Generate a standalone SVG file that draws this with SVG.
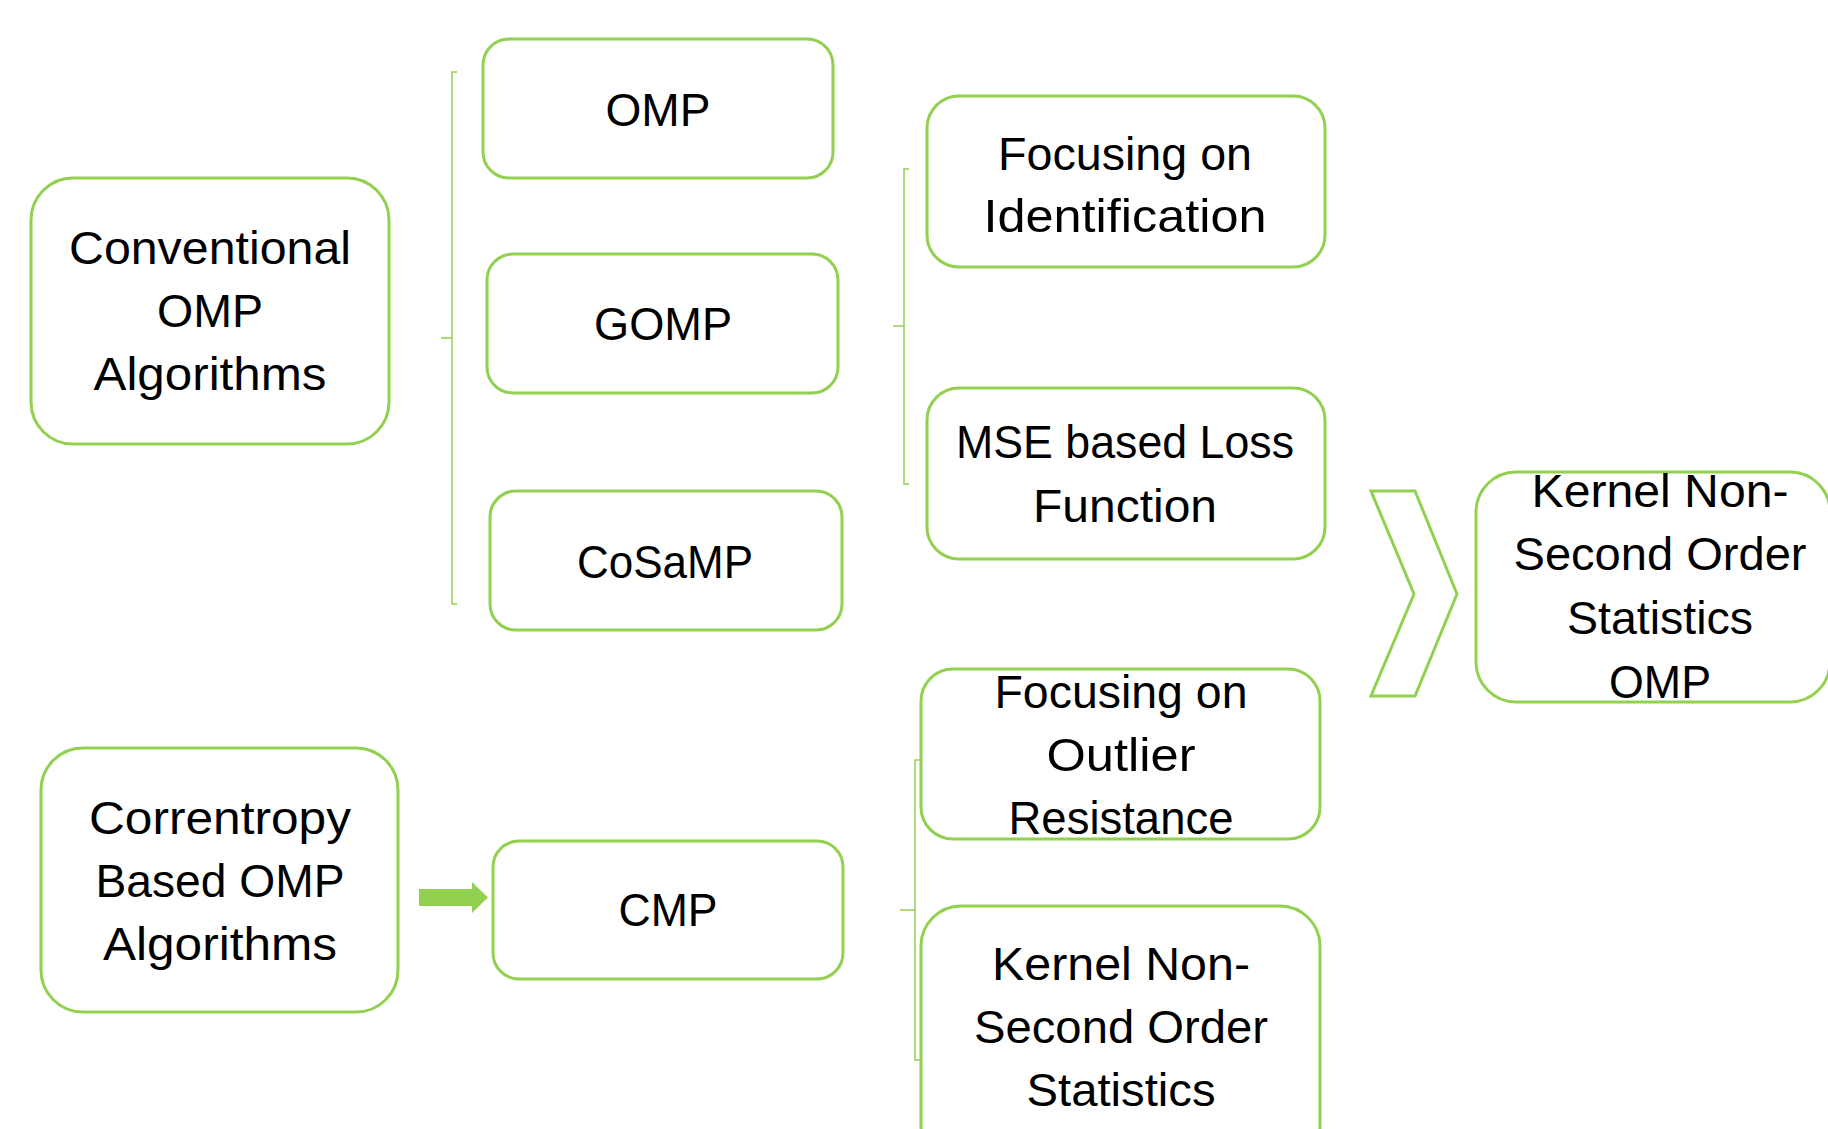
<svg xmlns="http://www.w3.org/2000/svg" width="1828" height="1129" viewBox="0 0 1828 1129">
<style>
.box{fill:#fff;stroke:#92D050;stroke-width:3}
.br{fill:none;stroke:#92D050;stroke-width:1.5}
text{font-family:"Liberation Sans",Arial,sans-serif;font-size:46px;fill:#000;text-anchor:middle}
</style>
<rect width="1828" height="1129" fill="#fff"/>
<g id="connectors">
<path class="br" d="M457,72 H452 V604 H457 M452,338 H441"/>
<path class="br" d="M909,169 H904 V484 H909 M904,326 H893"/>
<path class="br" d="M921,760 H915 V1060 H921 M915,910 H900"/>
<polygon points="419,889 472,889 472,882 488,897.5 472,913 472,906 419,906" fill="#92D050"/>
<polygon class="box" points="1371,491 1415,491 1457,594 1415,696 1371,696 1414,594"/>
</g>
<g id="conventional">
<rect class="box" x="31" y="178" width="358" height="266" rx="42"/>
<text x="210" y="264" textLength="282" lengthAdjust="spacingAndGlyphs">Conventional</text>
<text x="210" y="327" textLength="106" lengthAdjust="spacingAndGlyphs">OMP</text>
<text x="210" y="390" textLength="233" lengthAdjust="spacingAndGlyphs">Algorithms</text>
</g>
<g id="omp">
<rect class="box" x="483" y="39" width="350" height="139" rx="26"/>
<text x="658" y="126" textLength="105" lengthAdjust="spacingAndGlyphs">OMP</text>
</g>
<g id="gomp">
<rect class="box" x="487" y="254" width="351" height="139" rx="26"/>
<text x="663" y="340" textLength="138" lengthAdjust="spacingAndGlyphs">GOMP</text>
</g>
<g id="cosamp">
<rect class="box" x="490" y="491" width="352" height="139" rx="26"/>
<text x="665" y="578" textLength="176" lengthAdjust="spacingAndGlyphs">CoSaMP</text>
</g>
<g id="identification">
<rect class="box" x="927" y="96" width="398" height="171" rx="32"/>
<text x="1125" y="170" textLength="254" lengthAdjust="spacingAndGlyphs">Focusing on</text>
<text x="1125" y="232" textLength="283" lengthAdjust="spacingAndGlyphs">Identification</text>
</g>
<g id="mse">
<rect class="box" x="927" y="388" width="398" height="171" rx="32"/>
<text x="1125" y="458" textLength="338" lengthAdjust="spacingAndGlyphs">MSE based Loss</text>
<text x="1125" y="522" textLength="184" lengthAdjust="spacingAndGlyphs">Function</text>
</g>
<g id="kernel-omp">
<rect class="box" x="1476" y="472" width="354" height="230" rx="40"/>
<text x="1660" y="507" textLength="257" lengthAdjust="spacingAndGlyphs">Kernel Non-</text>
<text x="1660" y="570" textLength="293" lengthAdjust="spacingAndGlyphs">Second Order</text>
<text x="1660" y="634" textLength="186" lengthAdjust="spacingAndGlyphs">Statistics</text>
<text x="1660" y="698" textLength="102" lengthAdjust="spacingAndGlyphs">OMP</text>
</g>
<g id="correntropy">
<rect class="box" x="41" y="748" width="357" height="264" rx="42"/>
<text x="220" y="834" textLength="262" lengthAdjust="spacingAndGlyphs">Correntropy</text>
<text x="220" y="897" textLength="249" lengthAdjust="spacingAndGlyphs">Based OMP</text>
<text x="220" y="960" textLength="234" lengthAdjust="spacingAndGlyphs">Algorithms</text>
</g>
<g id="cmp">
<rect class="box" x="493" y="841" width="350" height="138" rx="26"/>
<text x="668" y="926" textLength="99" lengthAdjust="spacingAndGlyphs">CMP</text>
</g>
<g id="outlier">
<rect class="box" x="921" y="669" width="399" height="170" rx="32"/>
<text x="1121" y="708" textLength="253" lengthAdjust="spacingAndGlyphs">Focusing on</text>
<text x="1121" y="771" textLength="149" lengthAdjust="spacingAndGlyphs">Outlier</text>
<text x="1121" y="834" textLength="225" lengthAdjust="spacingAndGlyphs">Resistance</text>
</g>
<g id="kernel-stats">
<rect class="box" x="921" y="906" width="399" height="260" rx="40"/>
<text x="1121" y="980" textLength="258" lengthAdjust="spacingAndGlyphs">Kernel Non-</text>
<text x="1121" y="1043" textLength="294" lengthAdjust="spacingAndGlyphs">Second Order</text>
<text x="1121" y="1106" textLength="189" lengthAdjust="spacingAndGlyphs">Statistics</text>
</g>
</svg>
